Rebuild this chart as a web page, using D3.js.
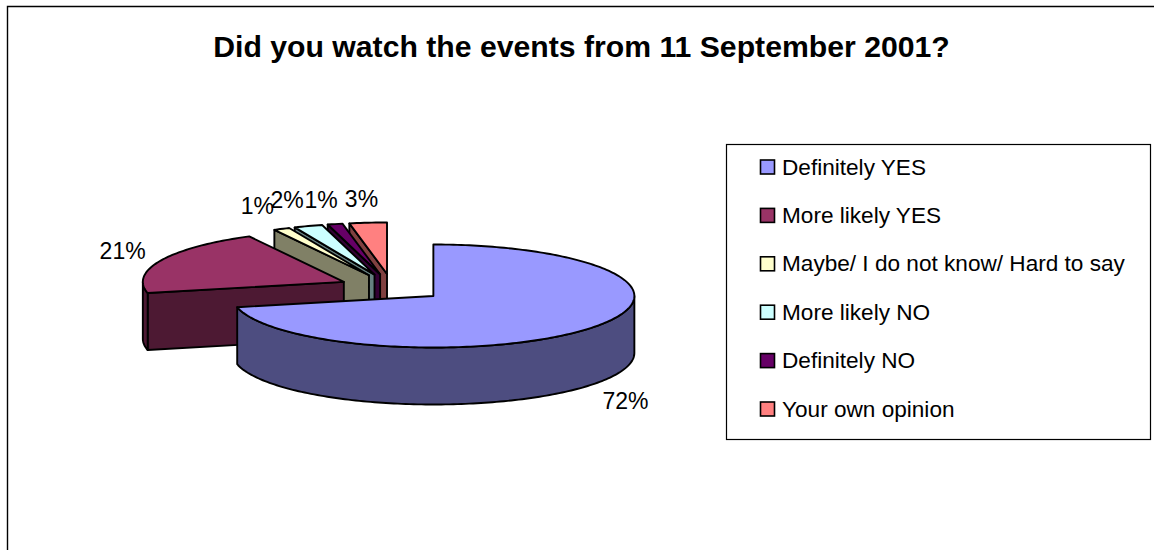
<!DOCTYPE html>
<html><head><meta charset="utf-8">
<script src="https://cdn.jsdelivr.net/npm/d3@7/dist/d3.min.js"></script>
<style>html,body{margin:0;padding:0;background:#fff}svg{display:block}text{font-family:"Liberation Sans",Arial,sans-serif;fill:#000}</style>
</head><body><svg id="c" width="1154" height="550"></svg>
<script>
const categories=["Definitely YES","More likely YES","Maybe/ I do not know/ Hard to say","More likely NO","Definitely NO","Your own opinion"];
const values=[71.5,20.7,1.3,2.3,1.2,3.0];
const colors=["#9999FF","#993366","#FFFFCC","#CCFFFF","#660066","#FF8080"];
const wallColors=["#4D4D80","#4D1933","#808066","#668080","#330033","#804040"];
const labelNudgeX=[-3,6,-3,-5,-3,-2];
const labelNudgeY=[8,-4,-12,-14,-12,-11];

const svg=d3.select("#c");
const cx=392,cy=287.5,rx=201,ry=51.5,depth=57,explode=53,labelR=250;
const pie=d3.pie().sort(null).value(d=>d)(values);
const k=ry/rx;
const apex=a=>[cx+explode*Math.sin(a),cy-explode*Math.cos(a)*k];
const pt=(o,a,dz=0)=>[o[0]+rx*Math.sin(a),o[1]-ry*Math.cos(a)+dz];
const line=d3.line();
function arcPts(o,a0,a1,dz=0){const n=Math.max(2,Math.ceil((a1-a0)/0.02));return d3.range(n+1).map(i=>pt(o,a0+(a1-a0)*i/n,dz));}
const sw=1.9;
svg.append("path").attr("d","M7.5,550V6.5H1154").attr("fill","none").attr("stroke","#000").attr("stroke-width",1.4);

// painter's order: back slices first, main slice last
const order=[5,4,3,2,1,0];
order.forEach(i=>{
  const s=pie[i],a0=s.startAngle,a1=s.endAngle,mid=(a0+a1)/2,o=apex(mid);
  const g=svg.append("g");
  const style=(p,f)=>p.attr("fill",f).attr("stroke","#000").attr("stroke-width",sw).attr("stroke-linejoin","round");
  // cut face along the start angle, visible when it faces the viewer
  if(Math.sin(a0)<0&&a0>Math.PI){
    const e=pt(o,a0);
    style(g.append("path").attr("d",line([o,e,[e[0],e[1]+depth],[o[0],o[1]+depth]])+"Z"),wallColors[i]);
  }
  // outer rim: only the part on the near half of the ellipse
  const r0=Math.max(a0,Math.PI/2),r1=Math.min(a1,3*Math.PI/2);
  if(r1>r0){
    const top=arcPts(o,r0,r1),bot=arcPts(o,r0,r1,depth).reverse();
    style(g.append("path").attr("d",line(top.concat(bot))+"Z"),wallColors[i]);
  }
  style(g.append("path").attr("d",line([o].concat(arcPts(o,a0,a1)))+"Z"),colors[i]);
});

// data labels
pie.forEach((s,i)=>{
  const mid=(s.startAngle+s.endAngle)/2,o=apex(mid);
  const x=o[0]+labelR*Math.sin(mid)+labelNudgeX[i];
  const y=o[1]-labelR*Math.cos(mid)*k+(Math.cos(mid)<0?depth:0)+labelNudgeY[i];
  svg.append("text").attr("x",x).attr("y",y).attr("text-anchor","middle").attr("dominant-baseline","central").attr("font-size",23).text(Math.round(values[i])+"%");
});

// title
svg.append("text").attr("x",581.5).attr("y",46.5).attr("text-anchor","middle").attr("dominant-baseline","central").attr("font-size",30.2).attr("font-weight","bold").text("Did you watch the events from 11 September 2001?");

// legend
svg.append("rect").attr("x",726.5).attr("y",144.5).attr("width",424).attr("height",295).attr("fill","#fff").attr("stroke","#000").attr("stroke-width",1.2);
const ly=d3.scalePoint().domain(categories).range([167,409]);
categories.forEach((c,i)=>{
  svg.append("rect").attr("x",760.5).attr("y",ly(c)-7).attr("width",14).attr("height",14).attr("fill",colors[i]).attr("stroke","#000").attr("stroke-width",1.6);
  svg.append("text").attr("x",782).attr("y",ly(c)).attr("dominant-baseline","central").attr("font-size",22.6).text(c);
});
</script></body></html>
